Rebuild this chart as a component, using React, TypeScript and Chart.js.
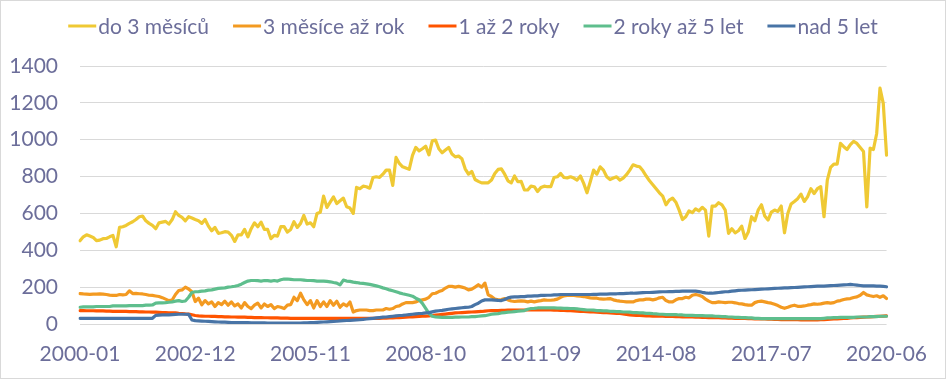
import { useEffect, useRef } from 'react';
import { Chart, registerables } from 'chart.js';

Chart.register(...registerables);

const FONT = "Lato, 'Open Sans', sans-serif";
const TEXT_COLOR = '#6C6E9A';
const GRID_COLOR = '#D9D9D9';

// Monthly categories 2000-01 .. 2020-06
const categories: string[] = [];
for (let y = 2000; y <= 2020; y++) {
  for (let m = 1; m <= 12; m++) {
    if (y === 2020 && m > 6) break;
    categories.push(`${y}-${String(m).padStart(2, '0')}`);
  }
}

const seriesNames = ['do 3 měsíců', '3 měsíce až rok', '1 až 2 roky', '2 roky až 5 let', 'nad 5 let'];
const seriesColors = ['#EFC934', '#F39A21', '#FF5400', '#5EBE8D', '#4874A6'];

const yTickMin = 0;
const yTickMax = 1400;
const yTickStep = 200;
const xTickEvery = 35;

const do3Mesicu = [
  452, 473, 484, 477, 470, 452, 455, 463, 464, 473,
  481, 419, 524, 528, 535, 546, 555, 567, 582, 586,
  560, 546, 535, 517, 549, 553, 557, 542, 567, 609,
  589, 578, 560, 582, 575, 567, 560, 546, 567, 531,
  506, 524, 492, 495, 501, 499, 481, 448, 484, 484,
  513, 473, 517, 549, 528, 553, 513, 513, 463, 481,
  477, 528, 528, 499, 513, 555, 524, 546, 589, 542,
  549, 528, 600, 607, 694, 633, 661, 690, 654, 669,
  683, 636, 629, 600, 741, 734, 748, 745, 737, 795,
  799, 795, 813, 835, 835, 752, 904, 871, 853, 846,
  839, 915, 958, 940, 951, 965, 918, 994, 998, 951,
  929, 944, 958, 922, 907, 911, 897, 842, 813, 828,
  784, 774, 766, 766, 766, 781, 817, 839, 842, 813,
  777, 766, 803, 772, 774, 727, 727, 748, 745, 719,
  741, 748, 745, 745, 795, 799, 817, 795, 793, 799,
  792, 781, 803, 763, 712, 772, 835, 813, 853, 835,
  799, 784, 792, 799, 781, 792, 810, 835, 864, 857,
  853, 831, 803, 777, 756, 734, 712, 694, 647, 672,
  683, 661, 618, 567, 582, 614, 604, 625, 614, 633,
  618, 477, 640, 640, 658, 647, 618, 492, 517, 495,
  506, 531, 464, 499, 582, 560, 618, 647, 586, 564,
  607, 618, 611, 640, 495, 600, 651, 665, 680, 705,
  665, 690, 734, 708, 734, 745, 582, 781, 850, 868,
  868, 980, 962, 947, 973, 991, 980, 958, 936, 636,
  954, 947, 1034, 1280, 1197, 916,
];

const mesiceAzRok = [
  165, 163, 162, 161, 162, 162, 163, 162, 160, 157,
  155, 155, 160, 158, 160, 180, 165, 166, 164, 163,
  160, 156, 155, 152, 149, 143, 135, 127, 130, 160,
  182, 185, 200, 190, 175, 122, 140, 104, 127, 109,
  120, 95, 116, 105, 124, 102, 120, 98, 109, 87,
  116, 95, 84, 102, 113, 87, 109, 95, 105, 84,
  95, 91, 84, 102, 105, 145, 127, 167, 131, 105,
  127, 87, 127, 95, 120, 95, 127, 102, 124, 91,
  109, 98, 120, 65, 73, 76, 76, 76, 73, 73,
  76, 76, 76, 84, 80, 84, 95, 98, 109, 116,
  116, 116, 120, 127, 131, 135, 145, 164, 167, 176,
  182, 195, 204, 204, 200, 204, 200, 195, 185, 189,
  200, 213, 200, 222, 158, 149, 136, 131, 133, 138,
  131, 125, 122, 124, 125, 124, 120, 124, 120, 124,
  127, 131, 129, 129, 131, 135, 145, 153, 155, 156,
  155, 153, 151, 149, 145, 142, 140, 140, 136, 135,
  136, 138, 131, 127, 124, 122, 120, 120, 120, 127,
  131, 131, 135, 135, 131, 135, 142, 145, 127, 120,
  120, 131, 138, 138, 145, 142, 156, 160, 156, 149,
  135, 124, 116, 116, 120, 118, 116, 118, 118, 115,
  111, 109, 105, 102, 102, 116, 122, 124, 120, 116,
  113, 107, 100, 91, 85, 91, 98, 102, 96, 96,
  98, 102, 105, 109, 107, 109, 113, 116, 113, 116,
  124, 127, 133, 136, 138, 144, 147, 156, 171, 158,
  153, 149, 153, 145, 153, 138,
];

const azDvaRoky = [
  73, 73, 72, 72, 72, 71, 71, 71, 70, 70,
  69, 69, 69, 68, 68, 67, 67, 67, 66, 66,
  65, 65, 64, 64, 63, 62, 62, 61, 60, 60,
  58, 57, 55, 54, 50, 46, 44, 43, 42, 42,
  41, 41, 40, 40, 39, 39, 38, 38, 37, 37,
  37, 36, 36, 35, 35, 35, 34, 34, 33, 33,
  33, 32, 32, 32, 31, 31, 31, 31, 31, 31,
  31, 30, 30, 30, 30, 30, 30, 30, 30, 30,
  30, 30, 30, 30, 30, 30, 30, 30, 30, 31,
  31, 31, 32, 32, 33, 33, 34, 35, 36, 37,
  38, 39, 40, 41, 42, 43, 44, 46, 48, 50,
  52, 54, 56, 58, 60, 61, 62, 63, 64, 65,
  66, 67, 68, 70, 72, 73, 73, 73, 74, 74,
  75, 75, 75, 76, 76, 76, 76, 77, 77, 77,
  77, 76, 76, 76, 75, 75, 74, 74, 73, 72,
  71, 70, 69, 68, 67, 66, 65, 64, 63, 62,
  61, 60, 59, 58, 57, 55, 52, 50, 48, 47,
  46, 45, 44, 44, 43, 43, 42, 42, 41, 41,
  41, 40, 40, 39, 39, 38, 38, 37, 37, 36,
  36, 35, 35, 34, 34, 33, 33, 32, 32, 31,
  31, 30, 30, 29, 29, 28, 28, 27, 27, 26,
  26, 25, 25, 24, 24, 24, 23, 23, 23, 22,
  22, 22, 22, 22, 22, 23, 24, 25, 26, 27,
  28, 29, 30, 31, 33, 34, 35, 36, 37, 38,
  39, 40, 41, 42, 43, 44,
];

const dvaAzPetLet = [
  91, 93, 93, 93, 93, 95, 95, 95, 95, 95,
  98, 98, 98, 98, 98, 100, 100, 100, 100, 100,
  102, 102, 103, 113, 115, 115, 116, 118, 120, 124,
  127, 122, 125, 145, 171, 175, 176, 178, 180, 184,
  185, 189, 193, 195, 196, 200, 202, 205, 209, 216,
  225, 233, 236, 236, 235, 233, 236, 235, 233, 236,
  233, 240, 244, 244, 242, 240, 240, 240, 238, 236,
  236, 235, 233, 233, 233, 231, 229, 225, 222, 212,
  238, 233, 231, 227, 225, 222, 220, 218, 215, 211,
  207, 202, 196, 191, 185, 180, 175, 169, 164, 160,
  156, 151, 140, 132, 112, 85, 58, 42, 38, 37,
  36, 36, 36, 36, 37, 37, 38, 38, 38, 40,
  40, 42, 44, 45, 49, 53, 55, 56, 60, 62,
  64, 65, 67, 69, 71, 73, 80, 84, 85, 87,
  87, 87, 87, 87, 87, 86, 86, 85, 85, 84,
  84, 82, 80, 78, 76, 76, 75, 73, 73, 71,
  71, 69, 69, 67, 67, 65, 65, 64, 62, 62,
  60, 60, 58, 58, 56, 55, 53, 53, 51, 51,
  51, 51, 49, 49, 47, 47, 47, 45, 45, 45,
  44, 44, 44, 42, 42, 40, 40, 38, 38, 36,
  36, 35, 35, 33, 33, 31, 31, 29, 29, 29,
  29, 29, 29, 29, 29, 29, 29, 29, 29, 29,
  29, 29, 29, 29, 29, 29, 31, 33, 33, 35,
  35, 36, 36, 36, 36, 36, 38, 38, 38, 38,
  40, 40, 40, 42, 42, 42,
];

const nadPetLet = [
  31, 31, 31, 31, 31, 31, 31, 31, 31, 31,
  31, 31, 31, 31, 31, 31, 31, 31, 31, 31,
  31, 31, 31, 47, 48, 49, 50, 50, 51, 52,
  53, 53, 53, 52, 22, 18, 17, 16, 15, 14,
  13, 12, 11, 10, 10, 9, 8, 7, 7, 7,
  7, 7, 6, 6, 6, 6, 6, 5, 5, 5,
  5, 5, 5, 5, 5, 5, 5, 5, 6, 6,
  7, 8, 9, 10, 11, 12, 13, 14, 15, 17,
  18, 19, 20, 21, 22, 23, 25, 27, 29, 31,
  33, 35, 37, 38, 40, 42, 44, 46, 47, 49,
  51, 53, 55, 57, 58, 60, 62, 66, 70, 72,
  74, 77, 80, 82, 84, 86, 88, 90, 91, 95,
  105, 113, 125, 131, 131, 131, 130, 128, 127, 133,
  142, 146, 147, 147, 149, 149, 151, 151, 153, 153,
  155, 155, 156, 156, 158, 158, 160, 160, 160, 160,
  160, 160, 160, 160, 160, 160, 161, 161, 162, 162,
  162, 163, 164, 164, 165, 165, 166, 167, 167, 168,
  169, 170, 171, 171, 172, 173, 174, 175, 175, 176,
  176, 177, 177, 178, 178, 178, 178, 178, 176, 172,
  169, 167, 167, 169, 171, 173, 175, 176, 178, 180,
  182, 183, 184, 185, 186, 187, 188, 189, 190, 191,
  192, 193, 194, 195, 196, 196, 197, 198, 199, 200,
  201, 202, 203, 204, 205, 206, 206, 207, 208, 209,
  210, 211, 212, 213, 215, 213, 211, 209, 207, 207,
  207, 207, 206, 205, 204, 202,
];

const seriesValues = [do3Mesicu, mesiceAzRok, azDvaRoky, dvaAzPetLet, nadPetLet];

const lineLegendPlugin = {
  id: 'lineLegend',
  afterDraw(chart: any) {
    const ctx = chart.ctx as CanvasRenderingContext2D;
    ctx.save();
    ctx.font = `21px ${FONT}`;
    const lineW = 28;
    const gapText = 2;
    const gapItem = 24;
    const ds = chart.data.datasets;
    const widths = ds.map((d: any) => ctx.measureText(d.label).width);
    const total =
      widths.reduce((a: number, w: number) => a + lineW + gapText + w, 0) + gapItem * (ds.length - 1);
    let x = (chart.width - total) / 2;
    const y = 25;
    ds.forEach((d: any, i: number) => {
      ctx.strokeStyle = d.borderColor;
      ctx.lineWidth = 3;
      ctx.lineCap = 'butt';
      ctx.beginPath();
      ctx.moveTo(x, y);
      ctx.lineTo(x + lineW, y);
      ctx.stroke();
      x += lineW + gapText;
      ctx.fillStyle = TEXT_COLOR;
      ctx.textBaseline = 'middle';
      ctx.textAlign = 'left';
      ctx.fillText(d.label, x, y + 1);
      x += widths[i] + gapItem;
    });
    ctx.restore();
  },
};

export default function App() {
  const canvasRef = useRef<HTMLCanvasElement | null>(null);

  useEffect(() => {
    if (!canvasRef.current) return;
    const chart = new Chart(canvasRef.current, {
      type: 'line',
      data: {
        labels: categories,
        datasets: seriesNames.map((name, i) => ({
          label: name,
          data: seriesValues[i],
          borderColor: seriesColors[i],
          backgroundColor: seriesColors[i],
          borderWidth: 3.2,
          pointRadius: 0,
          pointHoverRadius: 0,
          tension: 0,
          borderJoinStyle: 'round' as const,
          borderCapStyle: 'round' as const,
          fill: false,
          order: seriesNames.length - i,
        })),
      },
      options: {
        animation: false,
        responsive: true,
        maintainAspectRatio: false,
        layout: { padding: { top: 65, right: 54, left: 0, bottom: 0 } },
        plugins: {
          legend: { display: false },
          tooltip: { enabled: false },
        },
        scales: {
          x: {
            type: 'category',
            offset: false,
            grid: { display: false, drawTicks: false },
            border: { display: false },
            ticks: {
              autoSkip: false,
              maxRotation: 0,
              minRotation: 0,
              padding: 18,
              color: TEXT_COLOR,
              font: { family: FONT, size: 21 },
              callback: (_v: any, idx: number) => (idx % xTickEvery === 0 ? categories[idx] : null),
            },
            afterFit: (scale: any) => {
              scale.height = 54;
            },
          },
          y: {
            min: yTickMin,
            max: yTickMax,
            grid: { color: GRID_COLOR, lineWidth: 1, drawTicks: false },
            border: { display: false },
            ticks: {
              stepSize: yTickStep,
              padding: 22,
              color: TEXT_COLOR,
              font: { family: FONT, size: 21 },
              callback: (v: any) => String(v),
            },
            afterFit: (scale: any) => {
              scale.width = 79;
            },
          },
        },
      },
      plugins: [lineLegendPlugin],
    });
    return () => chart.destroy();
  }, []);

  return (
    <div
      style={{
        position: 'fixed',
        left: 0,
        top: 0,
        width: 946,
        height: 379,
        boxSizing: 'border-box',
        border: '1px solid #D9D9D9',
        background: '#FFFFFF',
      }}
    >
      <div style={{ position: 'relative', width: '100%', height: '100%' }}>
        <canvas ref={canvasRef} />
      </div>
    </div>
  );
}
